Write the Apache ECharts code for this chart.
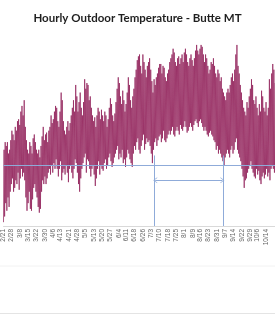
<!DOCTYPE html>
<html><head><meta charset="utf-8">
<script src="https://cdn.jsdelivr.net/npm/echarts@6/dist/echarts.min.js"></script>
<style>html,body{margin:0;padding:0;background:#fff}#c{width:275px;height:315px}</style>
</head><body><div id="c"></div>
<script>
// Daily high / low temperatures (°F), starting 2/21
const startDate = [2, 21];
const dailyHigh = [
40,44,42,44,38,40,45,50,48,45,
52,50,55,56,53,60,63,58,66,52,
45,40,38,44,42,38,46,48,44,40,
38,40,36,42,47,52,45,48,49,44,
50,52,58,54,56,60,63,62,55,52,
60,70,66,55,50,48,52,55,50,54,
58,62,66,60,74,68,60,65,70,62,
58,65,77,72,75,74,66,68,62,58,
55,57,52,58,62,60,56,61,58,55,
60,58,52,56,62,67,64,58,55,59,
65,72,78,75,68,64,71,66,60,64,
70,78,74,66,62,68,72,78,82,87,
89,90,84,80,90,86,82,78,84,86,
88,82,76,70,77,74,78,80,83,85,
85,80,84,83,78,76,80,82,86,88,
90,93,91,86,84,88,89,85,88,90,
86,91,93,90,86,84,88,90,87,84,
88,92,95,92,90,93,95,94,90,86,
90,88,84,80,82,86,85,88,84,80,
78,82,80,76,78,72,70,68,66,70,
72,70,74,78,80,76,82,90,95,84,
80,74,70,66,62,60,58,65,62,68,
72,77,74,66,64,68,62,58,64,60,
71,68,62,60,65,58,62,77,72,80,
85,82,75
];
const dailyLow = [
2,5,12,8,15,10,18,22,25,18,
20,24,22,28,19,25,30,26,28,24,
15,8,12,18,9,8,14,20,22,18,
15,10,7,9,18,24,22,26,22,25,
28,30,27,32,28,33,30,35,30,26,
30,34,24,28,30,27,32,28,23,30,
32,28,25,30,35,33,28,22,18,25,
30,33,36,38,28,35,34,30,26,30,
32,27,21,25,30,34,27,32,30,29,
33,35,30,32,36,38,34,31,33,36,
38,40,42,35,38,36,40,33,35,31,
36,40,38,35,33,31,38,42,40,44,
46,40,38,42,45,48,40,43,46,44,
45,42,38,33,40,44,46,42,45,47,
48,44,46,50,45,44,46,48,50,48,
50,52,48,47,50,52,50,48,53,51,
50,52,55,52,49,50,52,54,52,50,
53,55,56,54,52,55,56,54,52,50,
52,50,48,47,49,50,48,47,45,44,
40,42,38,40,38,36,34,32,36,38,
40,38,36,40,42,38,40,44,46,40,
38,36,34,30,26,20,24,25,28,30,
32,34,30,28,26,25,30,27,29,24,
22,26,28,25,27,30,26,28,24,30,
32,30,28
];
const tickLabels = ['2/21','2/28','3/8','3/15','3/22','3/30','4/6','4/13','4/21','4/28','5/5','5/13','5/20','5/27','6/4','6/11','6/18','6/26','7/3','7/10','7/18','7/25','8/1','8/9','8/16','8/23','8/31','9/7','9/14','9/22','9/29','10/6','10/14'];
const freezeLine = 32;
const frostFreeDates = ['7/6', '9/5'];

// build categories (two readings a day: morning low, afternoon high)
const monthDays = [31,28,31,30,31,30,31,31,30,31,30,31];
const dates = [];
let m = startDate[0], d = startDate[1];
for (let i = 0; i < dailyHigh.length; i++) {
  dates.push(m + '/' + d);
  d++; if (d > monthDays[m-1]) { d = 1; m++; }
}
const categories = [], values = [];
dates.forEach((dt, i) => {
  categories.push(dt + ' 06'); values.push(dailyLow[i]);
  categories.push(dt + ' 16'); values.push(dailyHigh[i]);
});
const tickSet = new Set(tickLabels.map(t => t + ' 06'));

const lineColor = '#8fabd9';
const v1 = frostFreeDates[0] + ' 06', v2 = frostFreeDates[1] + ' 16';
const a1 = frostFreeDates[0] + ' 16';
const a2 = categories[categories.indexOf(v2) - 2];
const chevron = 'path://M0,10 L5,0 L10,10 L8.6,10 L5,2.8 L1.4,10 Z';

const chart = echarts.init(document.getElementById('c'), null, {renderer: 'canvas'});
chart.setOption({
  animation: false,
  backgroundColor: '#fff',
  title: {
    text: 'Hourly Outdoor Temperature - Butte MT',
    left: 'center', top: 7,
    textStyle: {fontFamily: 'Lato', fontWeight: 'bold', fontSize: 11.5, color: '#1f1f1f'}
  },
  grid: {left: 0, right: 0, top: 35.4, bottom: 89, containLabel: false},
  xAxis: {
    type: 'category', data: categories, boundaryGap: false,
    axisLine: {lineStyle: {color: '#d9d9d9', width: 1}},
    axisTick: {show: false},
    axisLabel: {
      interval: (idx, val) => tickSet.has(val),
      formatter: v => v.split(' ')[0],
      rotate: 90, fontSize: 6.5, color: '#666666', fontFamily: 'Liberation Sans', margin: 3
    },
    splitLine: {show: false}
  },
  yAxis: {type: 'value', min: 0, max: 100, show: false, splitLine: {show: false}},
  series: [{
    type: 'line', data: values, showSymbol: false, symbol: 'none',
    lineStyle: {color: '#93245c', width: 0.75, opacity: 1},
    markLine: {
      silent: true, symbol: 'none', animation: false, label: {show: false},
      lineStyle: {color: lineColor, width: 1, type: 'solid'},
      data: [
        {yAxis: freezeLine},
        [{coord: [v1, 0]}, {coord: [v1, 37]}],
        [{coord: [v2, 0]}, {coord: [v2, 37]}],
        [{coord: [a1, 24], symbol: chevron, symbolSize: [6, 4]}, {coord: [a2, 24], symbol: chevron, symbolSize: [6, 4]}]
      ]
    }
  }],
  graphic: [
    {type: 'line', shape: {x1: 0, y1: 266, x2: 275, y2: 266}, style: {stroke: '#f2f2f2', lineWidth: 1}},
    {type: 'line', shape: {x1: 0, y1: 313.5, x2: 275, y2: 313.5}, style: {stroke: '#e4e4e4', lineWidth: 1}}
  ]
});
</script></body></html>
